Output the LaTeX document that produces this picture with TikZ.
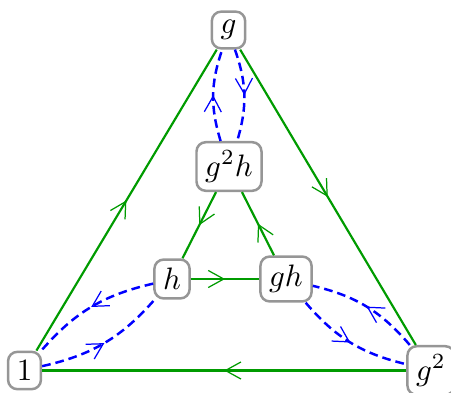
\documentclass[tikz,border=0pt]{standalone}
\usepackage{amsmath}
\usetikzlibrary{arrows.meta,decorations.markings}
\definecolor{rotcol}{RGB}{0,155,0}
\definecolor{flipcol}{RGB}{0,0,255}
\definecolor{boxcol}{RGB}{150,150,150}

\begin{document}
\begin{tikzpicture}[x=0.3226pt,y=0.3226pt,
  elt/.style={draw=boxcol,thick,rounded corners=3pt,fill=white,inner sep=2.8pt},
  midarr/.style={postaction={decorate},decoration={markings,
     mark=at position 0.5 with {\arrow{Straight Barb[length=5pt,width=5.5pt,line width=0.4pt]}}}},
  rot/.style={rotcol,line width=0.7pt,midarr},
  flip/.style={flipcol,thick,dash pattern=on 2.8pt off 1.6pt,midarr}]
  \useasboundingbox (0,0) rectangle (451,392);
  % the six elements
  \node[elt] (g) at (228.5,362) {$g$};
  \node[elt] (g2h) at (229,225.5) {$g^2h$};
  \node[elt] (h) at (172,113) {$h$};
  \node[elt] (gh) at (286,113) {$gh$};
  \node[elt] (one) at (24.5,21.5) {$1$};
  \node[elt] (g2) at (431,21.5) {$g^2$};
  % multiplication by g
  \draw[rot] (one) -- (g);
  \draw[rot] (g) -- (g2);
  \draw[rot] (g2) -- (one);
  \draw[rot] (g2h) -- (h);
  \draw[rot] (h) -- (gh);
  \draw[rot] (gh) -- (g2h);
  % multiplication by h
  \draw[flip] (g) to[bend left=18] (g2h);
  \draw[flip] (g2h) to[bend left=18] (g);
  \draw[flip] (h) to[bend right=18] (one);
  \draw[flip] (one) to[bend right=18] (h);
  \draw[flip] (gh) to[bend right=18] (g2);
  \draw[flip] (g2) to[bend right=18] (gh);
\end{tikzpicture}
\end{document}
